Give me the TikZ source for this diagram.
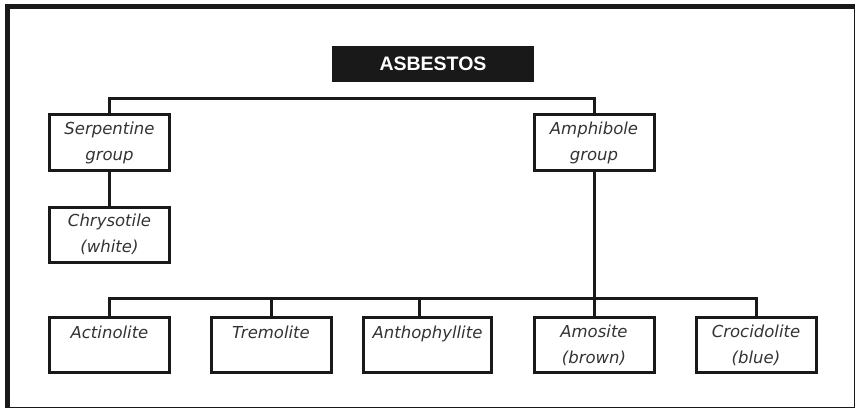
\documentclass[tikz,border=0pt]{standalone}
\usepackage{fontspec}
\setmainfont{DejaVu Sans}
\newfontfamily\titlefont{Liberation Sans}
\usetikzlibrary{positioning}

\begin{document}
\begin{tikzpicture}[x=1pt, y=-1pt,
    box/.style={draw=black!90, line width=3pt, minimum width=120pt, minimum height=55pt,
      inner sep=0pt, align=center, text=black!80, font=\fontsize{16.5}{26}\selectfont\itshape},
    title/.style={fill=black!90, text=white, minimum width=202pt, minimum height=36pt,
      inner sep=0pt, font=\titlefont\fontsize{19.5}{22}\selectfont\bfseries},
    link/.style={draw=black!90, line width=3pt}]
    \useasboundingbox (0,0) rectangle (856,409);
    % frame
    \draw[black!90, line width=1pt] (7.5,6.5) rectangle (854.5,407.5);
    \draw[black!90, line width=5pt] (7.5,407.5) -- (7.5,6.5) -- (854.5,6.5);
    % title
    \node[title] (asb) at (433,64) {ASBESTOS};
    % groups
    \node[box] (serp) at (109.5,142.5) {Serpentine\\group};
    \node[box] (amph) at (594,142.5) {Amphibole\\group};
    \node[box] (chry) at (109.5,234.5) {Chrysotile\\(white)};
    % fibre types
    \node[box] (act) at (109.5,345) {Actinolite\\~};
    \node[box] (trem) at (271,345) {Tremolite\\~};
    \node[box, minimum width=128pt] (anth) at (427.5,345) {Anthophyllite\\~};
    \node[box] (amos) at (594,345) {Amosite\\(brown)};
    \node[box] (croc) at (756,345) {Crocidolite\\(blue)};
    % connectors
    \coordinate (topbus) at (433,99);
    \coordinate (lowbus) at (594,298);
    \draw[link] (serp.north) |- (topbus) -| (amph.north);
    \draw[link] (serp.south) -- (chry.north);
    \draw[link] (amph.south) -- (lowbus);
    \draw[link] (act.north) |- (lowbus) -| (croc.north);
    \foreach \n in {trem, amos}
      \draw[link] (\n.north) -- (\n.north |- lowbus);
    \draw[link] ([xshift=-8.5pt]anth.north) -- ([xshift=-8.5pt]anth.north |- lowbus);
\end{tikzpicture}
\end{document}
